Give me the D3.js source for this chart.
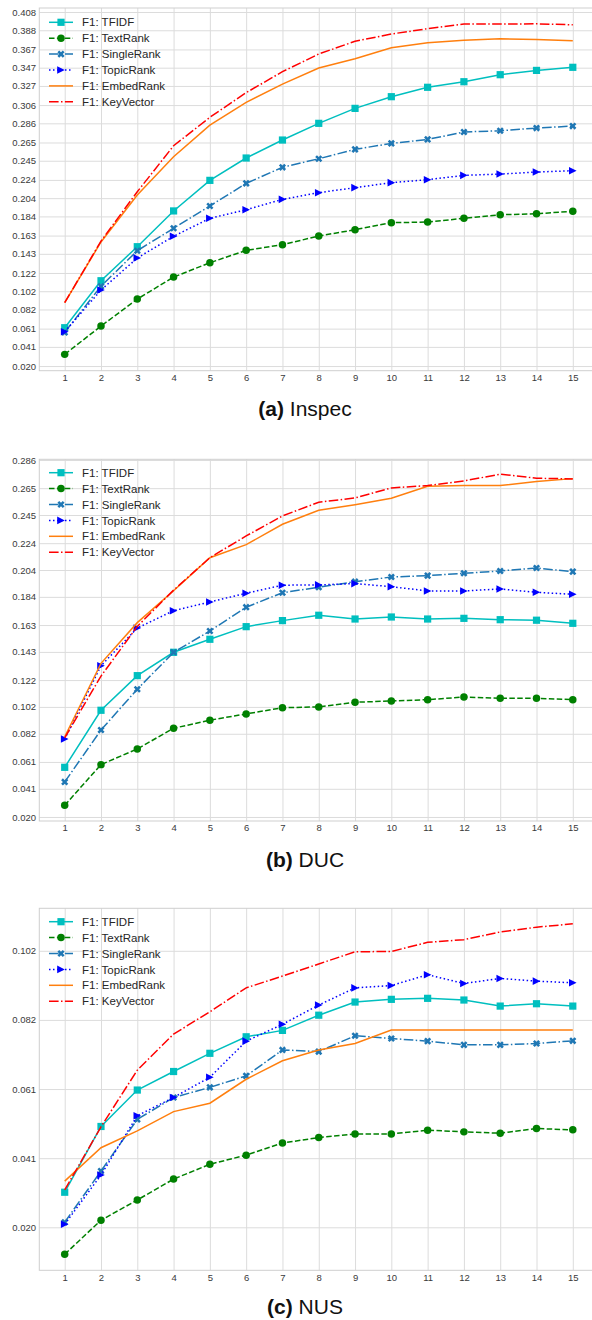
<!DOCTYPE html>
<html>
<head>
<meta charset="utf-8">
<script src="https://cdn.jsdelivr.net/npm/d3@7"></script>
<style>
  body { margin: 0; background: white; }
  text { font-family: "Liberation Sans", Arial, sans-serif; }
</style>
</head>
<body>
<svg id="chart" width="592" height="1320"></svg>
<script>
var ks = [1, 2, 3, 4, 5, 6, 7, 8, 9, 10, 11, 12, 13, 14, 15];

var seriesNames = ["F1: TFIDF", "F1: TextRank", "F1: SingleRank", "F1: TopicRank", "F1: EmbedRank", "F1: KeyVector"];

// (a) Inspec
var inspecTfidf = [0.062, 0.1135, 0.1508, 0.190, 0.2235, 0.248, 0.2677, 0.286, 0.3024, 0.3152, 0.3255, 0.3316, 0.3393, 0.344, 0.3474];
var inspecTextRank = [0.0328, 0.0638, 0.0934, 0.1175, 0.1332, 0.1468, 0.153, 0.1625, 0.1694, 0.1771, 0.1778, 0.1819, 0.1858, 0.1869, 0.1896];
var inspecSingleRank = [0.0569, 0.1075, 0.1464, 0.171, 0.1954, 0.2202, 0.2378, 0.2472, 0.2575, 0.264, 0.2684, 0.2765, 0.2779, 0.2808, 0.283];
var inspecTopicRank = [0.0576, 0.1033, 0.1384, 0.1622, 0.1819, 0.1913, 0.2027, 0.210, 0.2155, 0.221, 0.2242, 0.229, 0.2304, 0.2326, 0.2341];
var inspecEmbedRank = [0.0894, 0.156, 0.2074, 0.2494, 0.284, 0.309, 0.329, 0.3466, 0.3568, 0.3689, 0.3743, 0.377, 0.3787, 0.378, 0.3765];
var inspecKeyVector = [0.0894, 0.157, 0.211, 0.2614, 0.2926, 0.3196, 0.3426, 0.362, 0.3759, 0.3839, 0.3897, 0.3948, 0.3948, 0.3951, 0.394];
var inspecTicks = [0.020, 0.041, 0.061, 0.082, 0.102, 0.122, 0.143, 0.163, 0.184, 0.204, 0.224, 0.245, 0.265, 0.286, 0.306, 0.327, 0.347, 0.367, 0.388, 0.408];

// (b) DUC
var ducTfidf = [0.057, 0.0995, 0.1253, 0.1427, 0.1524, 0.1618, 0.1663, 0.1703, 0.1675, 0.169, 0.1675, 0.168, 0.167, 0.1666, 0.1643];
var ducTextRank = [0.0287, 0.059, 0.0707, 0.0861, 0.0921, 0.0968, 0.1014, 0.102, 0.1055, 0.1064, 0.1074, 0.1094, 0.1084, 0.1084, 0.1074];
var ducSingleRank = [0.0461, 0.0848, 0.1152, 0.1427, 0.1586, 0.1763, 0.1871, 0.1912, 0.1953, 0.1988, 0.1998, 0.2016, 0.2033, 0.2055, 0.2028];
var ducTopicRank = [0.0781, 0.1327, 0.1608, 0.1737, 0.1802, 0.1867, 0.1927, 0.1929, 0.1939, 0.1916, 0.1884, 0.1884, 0.1899, 0.1874, 0.1859];
var ducEmbedRank = [0.0798, 0.1345, 0.1648, 0.1886, 0.2132, 0.2229, 0.2381, 0.2485, 0.2527, 0.2575, 0.2664, 0.2669, 0.2669, 0.2699, 0.2721];
var ducKeyVector = [0.079, 0.125, 0.162, 0.189, 0.2132, 0.2294, 0.2443, 0.2545, 0.2577, 0.2652, 0.2669, 0.2704, 0.2754, 0.2724, 0.2719];
var ducTicks = [0.020, 0.041, 0.061, 0.082, 0.102, 0.122, 0.143, 0.163, 0.184, 0.204, 0.224, 0.245, 0.265, 0.286];

// (c) NUS
var nusTfidf = [0.0305, 0.050, 0.0608, 0.0663, 0.0717, 0.0766, 0.0785, 0.083, 0.0869, 0.0877, 0.088, 0.0875, 0.0857, 0.0864, 0.0857];
var nusTextRank = [0.0121, 0.0222, 0.0282, 0.0344, 0.0388, 0.0415, 0.0451, 0.0467, 0.0478, 0.0478, 0.0489, 0.0484, 0.048, 0.0494, 0.049];
var nusSingleRank = [0.0216, 0.0368, 0.0521, 0.0586, 0.0616, 0.065, 0.0727, 0.0722, 0.0769, 0.0761, 0.0753, 0.0742, 0.0742, 0.0746, 0.0754];
var nusTopicRank = [0.021, 0.0356, 0.0532, 0.0586, 0.0646, 0.0753, 0.0803, 0.086, 0.0911, 0.0918, 0.095, 0.0924, 0.0939, 0.0931, 0.0926];
var nusEmbedRank = [0.0338, 0.0437, 0.0487, 0.0544, 0.0569, 0.064, 0.0695, 0.0727, 0.0746, 0.0786, 0.0786, 0.0786, 0.0786, 0.0786, 0.0786];
var nusKeyVector = [0.0312, 0.0499, 0.0667, 0.0774, 0.084, 0.0911, 0.0946, 0.0982, 0.1018, 0.1019, 0.1046, 0.1054, 0.1077, 0.1091, 0.1101];
var nusTicks = [0.0201, 0.0406, 0.0611, 0.0816, 0.1021];

// line styles, same order as seriesNames
var colors = ["#00bfbf", "#008000", "#1f77b4", "#0000ff", "#ff7f0e", "#ff0000"];
var dashes = [null, "5.5,2.4", "9.6,2.4,1.5,2.4", "1.5,2.5", null, "9.6,2.4,1.5,2.4"];
var markers = ["square", "circle", "x", "triangle", null, null];

var svg = d3.select("#chart");
var left = 39.3, right = 598.2;

function markerPath(type) {
  if (type == "square") return d3.symbol(d3.symbolSquare, 52)();
  if (type == "circle") return d3.symbol(d3.symbolCircle, 44)();
  if (type == "x") return d3.symbol(d3.symbolCross, 32)();
  return "M3.8,0L-3.8,-3.8L-3.8,3.8Z";
}

function drawPanel(p) {
  var x = d3.scaleLinear().domain([0.3, 15.7]).range([left, right]);
  var y = d3.scaleLinear().domain([p.yMin, p.yMax]).range([p.bottom, p.top]);
  var g = svg.append("g");

  // y grid + labels
  var ya = g.append("g")
    .attr("transform", "translate(" + left + ",0)")
    .call(d3.axisLeft(y).tickValues(p.ticks).tickFormat(d3.format(".3f"))
      .tickSize(-(right - left)).tickPadding(3.3));
  // x grid + labels
  var xa = g.append("g")
    .attr("transform", "translate(0," + p.bottom + ")")
    .call(d3.axisBottom(x).tickValues(ks).tickFormat(d3.format("d"))
      .tickSize(-(p.bottom - p.top)).tickPadding(3.6));
  [ya, xa].forEach(function (a) {
    a.select(".domain").remove();
    a.selectAll(".tick line").attr("stroke", "#dcdcdc").attr("stroke-width", 1);
    a.selectAll(".tick text").attr("fill", "#3a3a3a").style("font-size", "9.5px")
      .style("font-family", "'Liberation Sans', Arial, sans-serif");
  });

  // frame
  g.append("rect")
    .attr("x", left).attr("y", p.top)
    .attr("width", right - left).attr("height", p.bottom - p.top)
    .attr("fill", "none").attr("stroke", "#cfcfcf").attr("stroke-width", 1);

  var line = d3.line()
    .x(function (d, i) { return x(ks[i]); })
    .y(function (d) { return y(d); });

  p.values.forEach(function (vals, s) {
    g.append("path")
      .attr("d", line(vals))
      .attr("fill", "none")
      .attr("stroke", colors[s])
      .attr("stroke-width", 1.5)
      .attr("stroke-dasharray", dashes[s]);
    if (markers[s]) {
      g.selectAll(".m" + s).data(vals).enter().append("path")
        .attr("d", markerPath(markers[s]))
        .attr("transform", function (d, i) {
          return "translate(" + x(ks[i]) + "," + y(d) + ")" + (markers[s] == "x" ? " rotate(45)" : "");
        })
        .attr("fill", colors[s]);
    }
  });

  // legend
  var lg = g.append("g");
  seriesNames.forEach(function (name, s) {
    var ly = p.legendY + s * 15.9;
    lg.append("line")
      .attr("x1", 49).attr("x2", 73).attr("y1", ly).attr("y2", ly)
      .attr("stroke", colors[s]).attr("stroke-width", 1.5)
      .attr("stroke-dasharray", dashes[s]);
    if (markers[s]) {
      lg.append("path")
        .attr("d", markerPath(markers[s]))
        .attr("transform", "translate(61," + ly + ")" + (markers[s] == "x" ? " rotate(45)" : ""))
        .attr("fill", colors[s]);
    }
    lg.append("text")
      .attr("x", 82).attr("y", ly).attr("dy", "0.36em")
      .style("font-size", "11.5px")
      .attr("fill", "#262626")
      .text(name);
  });

  // caption
  var cap = svg.append("text")
    .attr("x", 305).attr("y", p.captionY)
    .attr("text-anchor", "middle")
    .style("font-size", "21px")
    .attr("fill", "#111");
  cap.append("tspan").style("font-weight", "bold").text(p.tag);
  cap.append("tspan").text(" " + p.name);
}

drawPanel({
  values: [inspecTfidf, inspecTextRank, inspecSingleRank, inspecTopicRank, inspecEmbedRank, inspecKeyVector],
  ticks: inspecTicks, yMin: 0.0149, yMax: 0.4124, top: 8, bottom: 370.7,
  legendY: 22.3, captionY: 416, tag: "(a)", name: "Inspec"
});
drawPanel({
  values: [ducTfidf, ducTextRank, ducSingleRank, ducTopicRank, ducEmbedRank, ducKeyVector],
  ticks: ducTicks, yMin: 0.017, yMax: 0.2865, top: 459.3, bottom: 821,
  legendY: 472.7, captionY: 867, tag: "(b)", name: "DUC"
});
drawPanel({
  values: [nusTfidf, nusTextRank, nusSingleRank, nusTopicRank, nusEmbedRank, nusKeyVector],
  ticks: nusTicks, yMin: 0.00735, yMax: 0.1147, top: 908.3, bottom: 1270.3,
  legendY: 921.7, captionY: 1314, tag: "(c)", name: "NUS"
});
</script>
</body>
</html>
